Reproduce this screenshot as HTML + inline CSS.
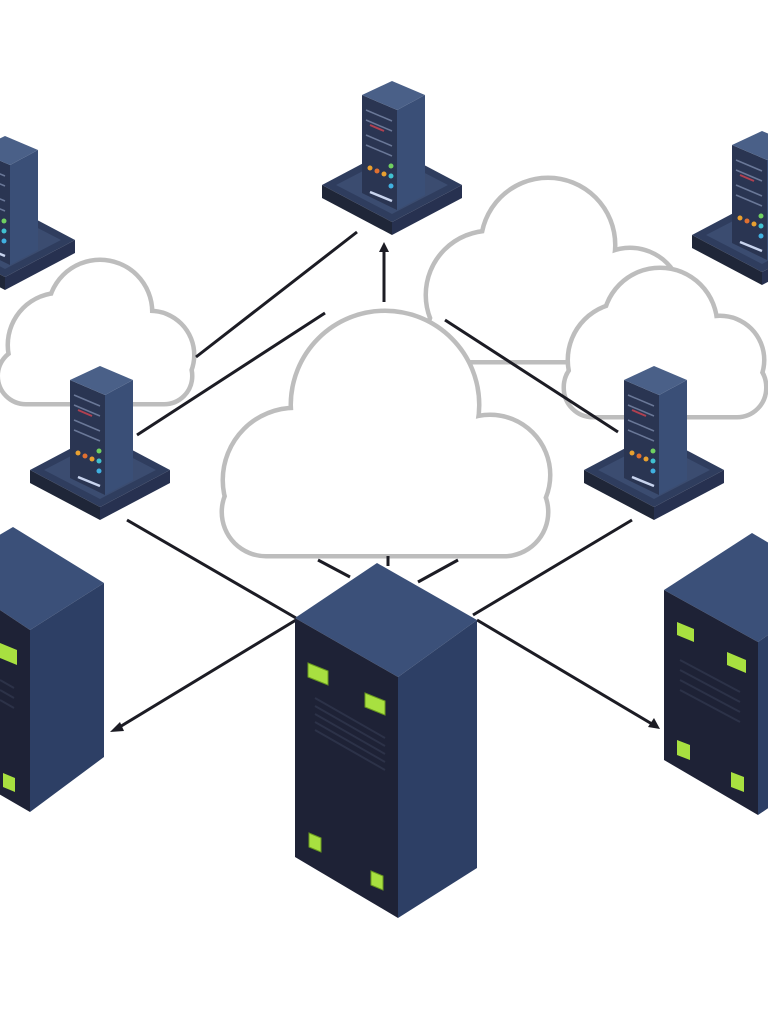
<!DOCTYPE html>
<html><head><meta charset="utf-8"><style>html,body{margin:0;padding:0;background:#fff}svg{display:block}</style></head><body>
<svg width="768" height="1024" viewBox="0 0 768 1024" xmlns="http://www.w3.org/2000/svg">
<defs>
<g id="srv">
  <polygon points="-70,-5 0,-42 70,-5 0,32" fill="#2f3d5e"/>
  <polygon points="-70,-5 0,32 0,45 -70,8" fill="#1f2638"/>
  <polygon points="0,32 70,-5 70,8 0,45" fill="#273150"/>
  <polygon points="-56,-5 0,-34 56,-5 0,24" fill="#3b4c70"/>
  <polygon points="-30,-95 5,-80 5,20 -30,3" fill="#2a3552"/>
  <polygon points="5,-80 33,-95 33,5 5,20" fill="#3a4f77"/>
  <polygon points="-30,-95 0,-109 33,-95 5,-80" fill="#4a6088"/>
  <g stroke="#6a7898" stroke-width="1.5">
    <line x1="-26" y1="-80" x2="0" y2="-69"/><line x1="-26" y1="-70" x2="0" y2="-59"/>
    <line x1="-26" y1="-55" x2="0" y2="-44"/><line x1="-26" y1="-45" x2="0" y2="-34"/>
  </g>
  <line x1="-22" y1="-65" x2="-8" y2="-59" stroke="#b04050" stroke-width="2"/>
  <circle cx="-22" cy="-22" r="2.5" fill="#e8a030"/><circle cx="-15" cy="-19" r="2.5" fill="#e07030"/><circle cx="-8" cy="-16" r="2.5" fill="#e8a030"/>
  <circle cx="-1" cy="-24" r="2.5" fill="#70d060"/><circle cx="-1" cy="-14" r="2.5" fill="#40c0d0"/><circle cx="-1" cy="-4" r="2.5" fill="#40b0e0"/>
  <line x1="-22" y1="2" x2="0" y2="11" stroke="#c8d4ee" stroke-width="2.5"/>
</g>
</defs>
<g fill="#bdbdbd" stroke="#bdbdbd" stroke-width="9">
  <circle cx="60" cy="345" r="50"/><circle cx="100" cy="312" r="50"/><circle cx="150" cy="355" r="42"/><rect x="0" y="350" width="190" height="52" rx="26"/>
  <circle cx="490" cy="295" r="62"/><circle cx="548" cy="245" r="65"/><circle cx="630" cy="300" r="50"/><rect x="430" y="300" width="250" height="60" rx="30"/>
</g>
<g fill="#fff">
  <circle cx="60" cy="345" r="50"/><circle cx="100" cy="312" r="50"/><circle cx="150" cy="355" r="42"/><rect x="0" y="350" width="190" height="52" rx="26"/>
  <circle cx="490" cy="295" r="62"/><circle cx="548" cy="245" r="65"/><circle cx="630" cy="300" r="50"/><rect x="430" y="300" width="250" height="60" rx="30"/>
</g>
<g fill="#bdbdbd" stroke="#bdbdbd" stroke-width="9">
  <circle cx="625" cy="360" r="55"/><circle cx="660" cy="325" r="55"/><circle cx="720" cy="360" r="42"/><rect x="566" y="360" width="198" height="55" rx="27"/>
</g>
<g fill="#fff">
  <circle cx="625" cy="360" r="55"/><circle cx="660" cy="325" r="55"/><circle cx="720" cy="360" r="42"/><rect x="566" y="360" width="198" height="55" rx="27"/>
</g>
<g stroke="#1c1c24" stroke-width="3" fill="#1c1c24">
  <line x1="196" y1="357" x2="357" y2="232"/>
  <line x1="137" y1="435" x2="325" y2="313"/>
  <line x1="384" y1="302" x2="384" y2="250"/><polygon points="379,252 384,242 389,252" stroke="none"/>
  <line x1="445" y1="320" x2="618" y2="432"/>
  <line x1="127" y1="520" x2="296" y2="618"/>
  <line x1="296" y1="620" x2="118" y2="728"/><polygon points="110,732 120,722 124,731" stroke="none"/>
  <line x1="477" y1="620" x2="652" y2="724"/><polygon points="660,729 648,727 654,718" stroke="none"/>
  <line x1="473" y1="615" x2="632" y2="520"/>
  <line x1="318" y1="560" x2="350" y2="577"/>
  <line x1="418" y1="582" x2="458" y2="560"/>
</g>
<g fill="#bdbdbd" stroke="#bdbdbd" stroke-width="9">
  <circle cx="295" cy="480" r="70"/><circle cx="385" cy="405" r="92"/><circle cx="490" cy="475" r="58"/><rect x="224" y="470" width="322" height="84" rx="42"/>
</g>
<g fill="#fff">
  <circle cx="295" cy="480" r="70"/><circle cx="385" cy="405" r="92"/><circle cx="490" cy="475" r="58"/><rect x="224" y="470" width="322" height="84" rx="42"/>
</g>
<line x1="388" y1="556" x2="388" y2="566" stroke="#1c1c24" stroke-width="3"/>
<use href="#srv" transform="translate(392,190)"/>
<use href="#srv" transform="translate(5,245)"/>
<use href="#srv" transform="translate(762,240)"/>
<use href="#srv" transform="translate(100,475)"/>
<use href="#srv" transform="translate(654,475)"/>
<!-- center tower -->
<g transform="translate(295,563)">
  <polygon points="0,55 82,0 182,57 103,114" fill="#3b5079"/>
  <polygon points="0,55 103,114 103,355 0,294" fill="#1e2236"/>
  <polygon points="103,114 182,57 182,305 103,355" fill="#2d3f65"/>
  <g fill="#a8e040" stroke="#6a9a20" stroke-width="1">
    <polygon points="13,100 33,108 33,122 13,114"/>
    <polygon points="70,130 90,138 90,152 70,144"/>
    <polygon points="14,270 26,275 26,289 14,284"/>
    <polygon points="76,308 88,313 88,327 76,322"/>
  </g>
  <g stroke="#2c3248" stroke-width="2">
    <line x1="20" y1="135" x2="90" y2="175"/><line x1="20" y1="143" x2="90" y2="183"/><line x1="20" y1="151" x2="90" y2="191"/><line x1="20" y1="159" x2="90" y2="199"/><line x1="20" y1="167" x2="90" y2="207"/>
  </g>
</g>
<!-- left big server -->
<polygon points="-60,570 13,527 104,583 30,630" fill="#3b5079"/>
<polygon points="-60,570 30,630 30,812 -60,760" fill="#1e2236"/>
<polygon points="30,630 104,583 104,757 30,812" fill="#2d3f65"/>
<polygon points="0,643 17,650 17,665 0,658" fill="#a8e040"/>
<polygon points="3,773 15,778 15,792 3,787" fill="#a8e040"/>
<g stroke="#2c3248" stroke-width="2"><line x1="0" y1="680" x2="14" y2="688"/><line x1="0" y1="690" x2="14" y2="698"/><line x1="0" y1="700" x2="14" y2="708"/></g>
<!-- right big server -->
<polygon points="664,590 752,533 840,585 758,642" fill="#3b5079"/>
<polygon points="664,590 758,642 758,815 664,760" fill="#1e2236"/>
<polygon points="758,642 840,585 840,760 758,815" fill="#2d3f65"/>
<polygon points="677,622 694,629 694,642 677,635" fill="#a8e040"/>
<polygon points="727,652 746,660 746,673 727,665" fill="#a8e040"/>
<polygon points="677,740 690,745 690,760 677,755" fill="#a8e040"/>
<polygon points="731,772 744,777 744,792 731,787" fill="#a8e040"/>
<g stroke="#2c3248" stroke-width="2"><line x1="680" y1="660" x2="740" y2="692"/><line x1="680" y1="670" x2="740" y2="702"/><line x1="680" y1="680" x2="740" y2="712"/><line x1="680" y1="690" x2="740" y2="722"/></g>
</svg>
</body></html>
